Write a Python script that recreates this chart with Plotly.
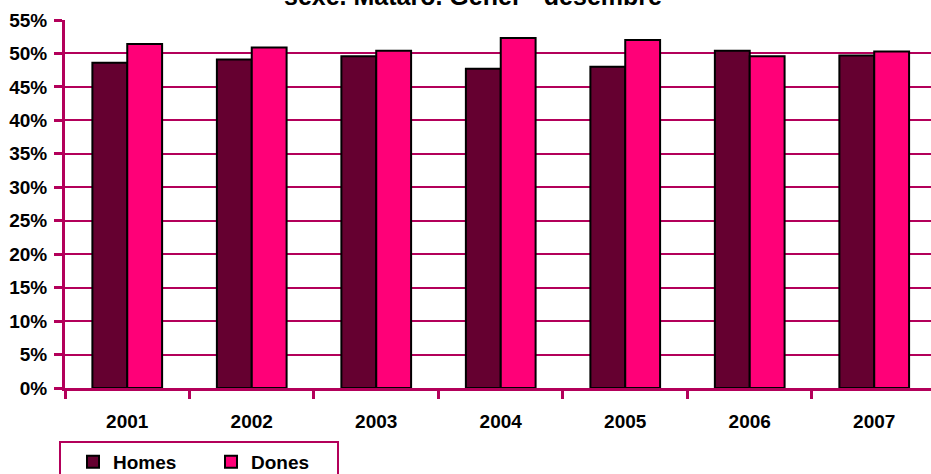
import plotly.graph_objects as go

years = ["2001", "2002", "2003", "2004", "2005", "2006", "2007"]
homes = [48.6, 49.1, 49.6, 47.7, 48.0, 50.4, 49.7]
dones = [51.4, 50.9, 50.4, 52.3, 52.0, 49.6, 50.3]
ytick_vals = [0, 5, 10, 15, 20, 25, 30, 35, 40, 45, 50, 55]
ytick_text = [f"{v}%" for v in ytick_vals]
title_text = "sexe. Mataró. Gener - desembre"

AX = "#B3005A"
FONT = "Liberation Sans, Arial, sans-serif"

fig = go.Figure()
fig.add_trace(go.Bar(x=years, y=homes, name="Homes",
                     marker=dict(color="#650030", line=dict(color="black", width=2))))
fig.add_trace(go.Bar(x=years, y=dones, name="Dones",
                     marker=dict(color="#FF0078", line=dict(color="black", width=2))))

fig.update_layout(
    width=931, height=474,
    margin=dict(l=65, r=0, t=19.5, b=86, autoexpand=False),
    paper_bgcolor="white", plot_bgcolor="white",
    barmode="group", bargap=0.44, bargroupgap=0,
    font=dict(family=FONT, size=19, color="black", weight="bold"),
    showlegend=True,
    legend=dict(orientation="h", xref="container", yref="container",
                x=59 / 931, xanchor="left", y=1 - 441 / 474, yanchor="top",
                bordercolor=AX, borderwidth=2, bgcolor="white",
                entrywidth=81, entrywidthmode="pixels", indentation=12,
                font=dict(family=FONT, size=19, color="black", weight="bold"),
                traceorder="normal"),
    annotations=[dict(text=title_text, x=(473 - 65) / 866, xref="paper",
                      y=1.0214, yref="paper", yanchor="bottom", xanchor="center",
                      showarrow=False,
                      font=dict(family=FONT, size=25, color="black", weight="bold"))],
)

fig.update_xaxes(type="category", range=[-0.5, 6.456], showline=True, linecolor=AX, linewidth=3,
                 ticks="outside", tickson="boundaries", ticklen=8, tickwidth=3, tickcolor=AX,
                 showgrid=False, ticklabelstandoff=14, automargin=False,
                 tickfont=dict(family=FONT, size=19, color="black", weight="bold"))
fig.update_yaxes(range=[0, 55], tickvals=ytick_vals, ticktext=ytick_text,
                 showline=True, linecolor=AX, linewidth=3,
                 ticks="outside", ticklen=8, tickwidth=3, tickcolor=AX,
                 showgrid=True, gridcolor=AX, gridwidth=2, zeroline=False,
                 ticklabelstandoff=3, automargin=False,
                 tickfont=dict(family=FONT, size=19, color="black", weight="bold"))

fig.write_html("out.html", config={"displayModeBar": False},
               post_script="document.body.style.margin='0px';document.body.style.overflow='hidden';")
